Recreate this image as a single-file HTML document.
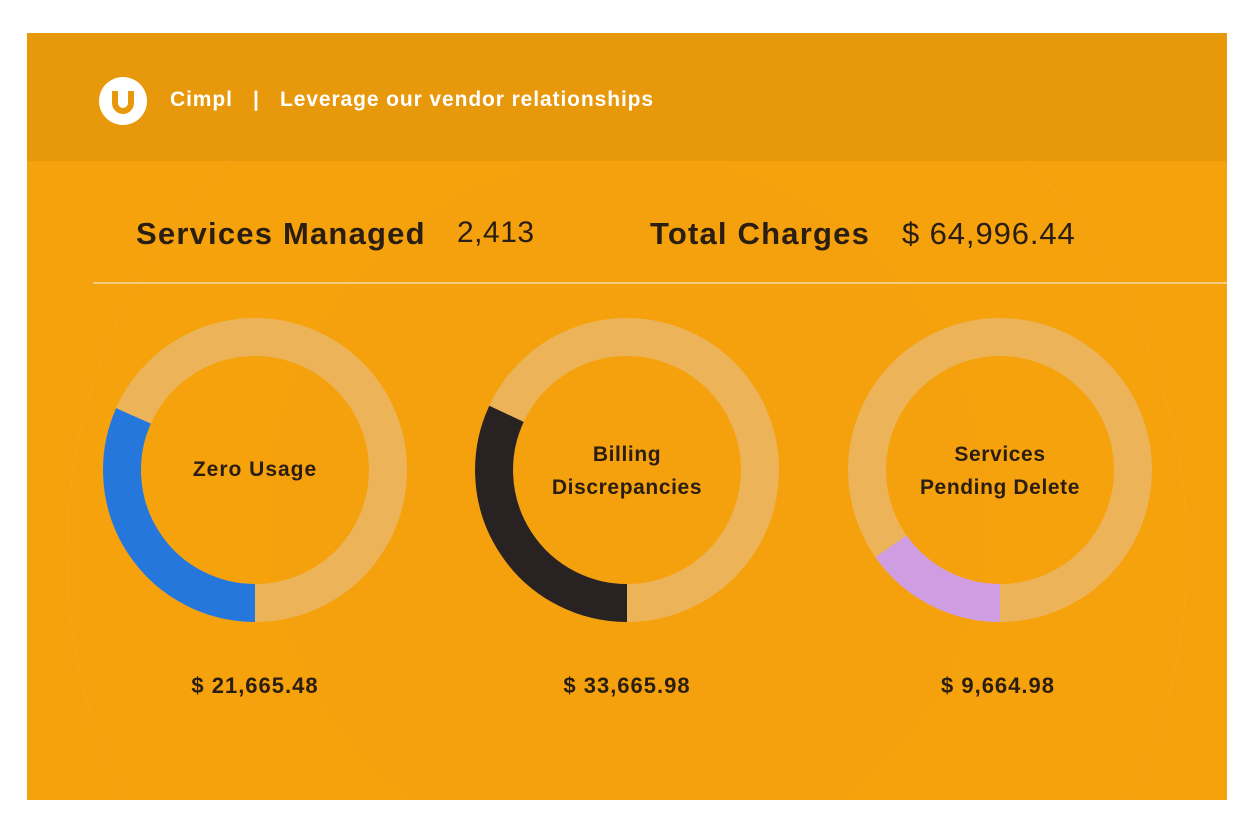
<!DOCTYPE html>
<html style="overflow:hidden"><head><meta charset="utf-8"><style>
html,body{margin:0;background:#fff;width:1253px;height:834px;overflow:hidden}
body{position:relative;font-family:"Liberation Sans",sans-serif}
.panel{position:absolute;left:27px;top:33px;width:1200px;height:767px;background:#F5A20D;overflow:hidden}
.hdr{position:absolute;left:0;top:0;width:1200px;height:128px;background:#E8980B}
.t{position:absolute;font-weight:bold;color:#2a1d12;white-space:nowrap}
</style></head><body>
<div class="panel">
<svg width="1200" height="767" style="position:absolute;left:0;top:0">
<circle cx="600" cy="520" r="560" fill="none" stroke="#f8b040" stroke-width="1" opacity="0.35"/>
<circle cx="600" cy="480" r="360" fill="#F0A010" opacity="0.2"/>
</svg>
<div class="hdr"></div>
<svg width="1200" height="767" style="position:absolute;left:0;top:0">
<circle cx="96" cy="68" r="24" fill="#fff"/>
<path d="M88 58 v12 a8 8 0 0 0 16 0 v-12" fill="none" stroke="#E8980B" stroke-width="6"/>
<line x1="66" y1="250" x2="1200" y2="250" stroke="#F6CB80" stroke-width="2"/>
</svg>
<div class="t" style="left:143px;top:55px;font-size:21px;color:#fff;letter-spacing:0.9px">Cimpl &nbsp;&nbsp;|&nbsp;&nbsp; Leverage our vendor relationships</div>
<div class="t" style="left:109px;top:183px;font-size:31px;letter-spacing:1.2px">Services Managed</div>
<div class="t" style="left:430px;top:183px;font-size:30px;font-weight:normal;letter-spacing:0.5px">2,413</div>
<div class="t" style="left:623px;top:183px;font-size:31px;letter-spacing:1.2px">Total Charges</div>
<div class="t" style="left:875px;top:183px;font-size:31px;font-weight:normal;letter-spacing:0.9px">$ 64,996.44</div>
</div>
<svg width="1253" height="834" style="position:absolute;left:0;top:0">
<g fill="none" stroke-width="38">
<circle cx="255" cy="470" r="133" stroke="#EDB358"/>
<circle cx="627" cy="470" r="133" stroke="#EDB358"/>
<circle cx="1000" cy="470" r="133" stroke="#EDB358"/>
<path d="M255 603 A133 133 0 0 1 133.5 415.9" stroke="#2677DC"/>
<path d="M627 603 A133 133 0 0 1 506.5 413.8" stroke="#282223"/>
<path d="M1000 603 A133 133 0 0 1 891 546.3" stroke="#CF9DE1"/>
</g>
</svg>
<div class="t" style="left:155px;top:458px;width:200px;text-align:center;font-size:21px;letter-spacing:1px">Zero Usage</div>
<div class="t" style="left:527px;top:438px;width:200px;text-align:center;font-size:21px;line-height:33px;letter-spacing:0.6px">Billing<br>Discrepancies</div>
<div class="t" style="left:900px;top:438px;width:200px;text-align:center;font-size:21px;line-height:33px;letter-spacing:0.6px">Services<br>Pending Delete</div>
<div class="t" style="left:155px;top:673px;width:200px;text-align:center;font-size:22px;letter-spacing:1px">$ 21,665.48</div>
<div class="t" style="left:527px;top:673px;width:200px;text-align:center;font-size:22px;letter-spacing:1px">$ 33,665.98</div>
<div class="t" style="left:898px;top:673px;width:200px;text-align:center;font-size:22px;letter-spacing:1px">$ 9,664.98</div>
</body></html>
